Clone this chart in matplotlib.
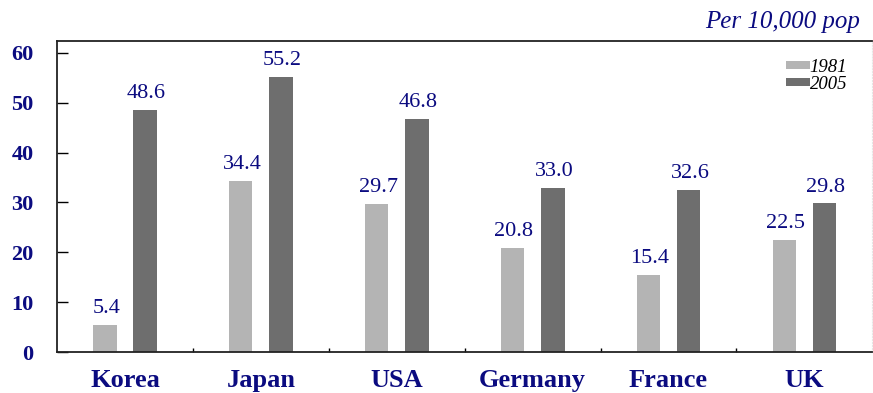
import matplotlib
matplotlib.use("Agg")
import matplotlib.pyplot as plt
import numpy as np

countries = ["Korea", "Japan", "USA", "Germany", "France", "UK"]
v1981 = [5.4, 34.4, 29.7, 20.8, 15.4, 22.5]
v2005 = [48.6, 55.2, 46.8, 33.0, 32.6, 29.8]
yticks = [0, 10, 20, 30, 40, 50, 60]

NAVY = "#0b0b80"
C81, C05 = "#b4b4b4", "#6e6e6e"
plt.rcParams["font.family"] = ["Liberation Serif", "DejaVu Serif"]

fig = plt.figure(figsize=(8.73, 3.93), dpi=100)
ax = fig.add_axes([0.0653, 0.104, 0.934, 0.792])

x = np.arange(len(countries))
w, off = 0.173, 0.148
b1 = ax.bar(x - off, v1981, w, color=C81, label="1981")
b2 = ax.bar(x + off, v2005, w, color=C05, label="2005")
for bars, vals in ((b1, v1981), (b2, v2005)):
    for r, v in zip(bars, vals):
        ax.annotate(f"{v:.1f}", (r.get_x() + r.get_width() / 2, v), xytext=(1, 5),
                    textcoords="offset points", ha="center", va="bottom",
                    fontsize=16, color=NAVY)

ax.set_xlim(-0.5, len(countries) - 0.5)
ax.set_ylim(0, 62.4)
ax.set_yticks(yticks)
ax.set_yticklabels([str(t) for t in yticks], fontsize=16, fontweight="bold", color=NAVY)
ax.tick_params(axis="y", direction="in", length=8, width=1, pad=17)
ax.set_xticks(x)
ax.set_xticklabels(countries, fontsize=19, fontweight="bold", color=NAVY)
ax.tick_params(axis="x", which="major", length=0, pad=12)
ax.set_xticks(x[:-1] + 0.5, minor=True)
ax.tick_params(axis="x", which="minor", direction="in", length=3, width=1)

for s in ("left", "bottom", "top"):
    ax.spines[s].set_linewidth(1.3)
    ax.spines[s].set_color("#222222")
ax.spines["right"].set_color("#e6e6e6")
ax.spines["right"].set_linestyle(":")

leg = ax.legend(loc="upper right", bbox_to_anchor=(0.985, 0.985), frameon=False,
                prop={"family": "Liberation Serif", "style": "italic", "size": 13.5},
                handlelength=1.25, handleheight=0.3, handletextpad=0.0, labelspacing=0.0,
                borderpad=0.2)

fig.text(0.985, 0.915, "Per 10,000 pop", ha="right", va="bottom", fontsize=18,
         style="italic", color=NAVY)

fig.savefig("out.png", dpi=100)
